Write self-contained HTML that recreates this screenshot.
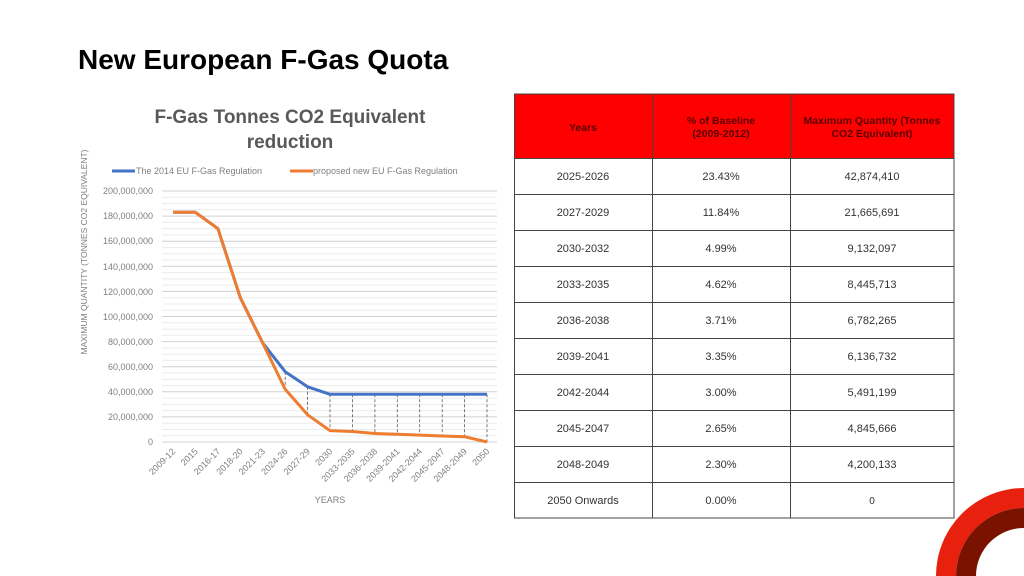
<!DOCTYPE html>
<html><head><meta charset="utf-8"><style>
html,body{margin:0;padding:0;width:1024px;height:576px;overflow:hidden;background:#fff;font-family:"Liberation Sans",sans-serif}
svg{display:block;overflow:hidden}
</style></head><body>
<svg width="1024" height="576" viewBox="0 0 1024 576" xmlns="http://www.w3.org/2000/svg" font-family="Liberation Sans, sans-serif">
<text x="78" y="69" font-size="28" font-weight="bold" fill="#000">New European F-Gas Quota</text>
<text x="290" y="123" font-size="19" font-weight="bold" fill="#595959" text-anchor="middle">F-Gas Tonnes CO2 Equivalent</text>
<text x="290" y="148" font-size="19" font-weight="bold" fill="#595959" text-anchor="middle">reduction</text>
<g stroke="#ececec" stroke-width="1">
<line x1="162" x2="497" y1="435.7" y2="435.7"/><line x1="162" x2="497" y1="429.5" y2="429.5"/><line x1="162" x2="497" y1="423.2" y2="423.2"/>
<line x1="162" x2="497" y1="410.6" y2="410.6"/><line x1="162" x2="497" y1="404.4" y2="404.4"/><line x1="162" x2="497" y1="398.1" y2="398.1"/>
<line x1="162" x2="497" y1="385.5" y2="385.5"/><line x1="162" x2="497" y1="379.3" y2="379.3"/><line x1="162" x2="497" y1="373" y2="373"/>
<line x1="162" x2="497" y1="360.4" y2="360.4"/><line x1="162" x2="497" y1="354.2" y2="354.2"/><line x1="162" x2="497" y1="347.9" y2="347.9"/>
<line x1="162" x2="497" y1="335.3" y2="335.3"/><line x1="162" x2="497" y1="329.1" y2="329.1"/><line x1="162" x2="497" y1="322.8" y2="322.8"/>
<line x1="162" x2="497" y1="310.2" y2="310.2"/><line x1="162" x2="497" y1="304" y2="304"/><line x1="162" x2="497" y1="297.7" y2="297.7"/>
<line x1="162" x2="497" y1="285.1" y2="285.1"/><line x1="162" x2="497" y1="278.9" y2="278.9"/><line x1="162" x2="497" y1="272.6" y2="272.6"/>
<line x1="162" x2="497" y1="260" y2="260"/><line x1="162" x2="497" y1="253.8" y2="253.8"/><line x1="162" x2="497" y1="247.5" y2="247.5"/>
<line x1="162" x2="497" y1="234.9" y2="234.9"/><line x1="162" x2="497" y1="228.7" y2="228.7"/><line x1="162" x2="497" y1="222.4" y2="222.4"/>
<line x1="162" x2="497" y1="209.8" y2="209.8"/><line x1="162" x2="497" y1="203.6" y2="203.6"/><line x1="162" x2="497" y1="197.3" y2="197.3"/>
</g>
<g stroke="#d0d0d0" stroke-width="1">
<line x1="162" x2="497" y1="442" y2="442"/><line x1="162" x2="497" y1="416.9" y2="416.9"/><line x1="162" x2="497" y1="391.8" y2="391.8"/>
<line x1="162" x2="497" y1="366.7" y2="366.7"/><line x1="162" x2="497" y1="341.6" y2="341.6"/><line x1="162" x2="497" y1="316.5" y2="316.5"/>
<line x1="162" x2="497" y1="291.4" y2="291.4"/><line x1="162" x2="497" y1="266.3" y2="266.3"/><line x1="162" x2="497" y1="241.2" y2="241.2"/>
<line x1="162" x2="497" y1="216.1" y2="216.1"/><line x1="162" x2="497" y1="191" y2="191"/>
</g>
<g font-size="9" fill="#7f7f7f" text-anchor="end">
<text x="153" y="445">0</text><text x="153" y="420">20,000,000</text><text x="153" y="395">40,000,000</text>
<text x="153" y="370">60,000,000</text><text x="153" y="345">80,000,000</text><text x="153" y="320">100,000,000</text>
<text x="153" y="295">120,000,000</text><text x="153" y="270">140,000,000</text><text x="153" y="244">160,000,000</text>
<text x="153" y="219">180,000,000</text><text x="153" y="194">200,000,000</text>
</g>
<text transform="translate(87,252) rotate(-90)" font-size="8.5" fill="#7f7f7f" text-anchor="middle">MAXIMUM QUANTITY (TONNES CO2 EQUIVALENT)</text>
<g stroke="#555" stroke-width="0.8" stroke-dasharray="3,2">
<line x1="285.2" y1="371.7" x2="285.2" y2="389.3"/><line x1="307.6" y1="386.8" x2="307.6" y2="414.8"/>
<line x1="330" y1="394.3" x2="330" y2="430.6"/><line x1="352.4" y1="394.3" x2="352.4" y2="431.5"/>
<line x1="374.9" y1="394.3" x2="374.9" y2="433.5"/><line x1="397.3" y1="394.3" x2="397.3" y2="434.3"/>
<line x1="419.7" y1="394.3" x2="419.7" y2="435.1"/><line x1="442.2" y1="394.3" x2="442.2" y2="436"/>
<line x1="464.6" y1="394.3" x2="464.6" y2="436.7"/><line x1="487" y1="394.3" x2="487" y2="442"/>
</g>
<polyline fill="none" stroke="#4472c4" stroke-width="3" stroke-linejoin="round" points="173,212.3 195.4,212.3 217.9,228.6 240.3,297.7 262.7,342.9 285.2,371.7 307.6,386.8 330,394.3 352.4,394.3 374.9,394.3 397.3,394.3 419.7,394.3 442.2,394.3 464.6,394.3 487,394.3"/>
<polyline fill="none" stroke="#ed7d31" stroke-width="3" stroke-linejoin="round" points="173,212.3 195.4,212.3 217.9,228.6 240.3,297.7 262.7,342.9 285.2,389.3 307.6,414.8 330,430.6 352.4,431.5 374.9,433.5 397.3,434.3 419.7,435.1 442.2,436 464.6,436.7 487,442"/>
<g font-size="9" fill="#7f7f7f" text-anchor="end">
<text transform="translate(176,452) rotate(-45)">2009-12</text>
<text transform="translate(198.4,452) rotate(-45)">2015</text>
<text transform="translate(220.9,452) rotate(-45)">2016-17</text>
<text transform="translate(243.3,452) rotate(-45)">2018-20</text>
<text transform="translate(265.7,452) rotate(-45)">2021-23</text>
<text transform="translate(288.2,452) rotate(-45)">2024-26</text>
<text transform="translate(310.6,452) rotate(-45)">2027-29</text>
<text transform="translate(333,452) rotate(-45)">2030</text>
<text transform="translate(355.4,452) rotate(-45)">2033-2035</text>
<text transform="translate(377.9,452) rotate(-45)">2036-2038</text>
<text transform="translate(400.3,452) rotate(-45)">2039-2041</text>
<text transform="translate(422.7,452) rotate(-45)">2042-2044</text>
<text transform="translate(445.2,452) rotate(-45)">2045-2047</text>
<text transform="translate(467.6,452) rotate(-45)">2048-2049</text>
<text transform="translate(490,452) rotate(-45)">2050</text>
</g>
<text x="330" y="503" font-size="9" fill="#7f7f7f" text-anchor="middle">YEARS</text>
<line x1="112" y1="171" x2="135" y2="171" stroke="#4472c4" stroke-width="3"/>
<text x="136" y="174" font-size="9" fill="#7f7f7f">The 2014 EU F-Gas Regulation</text>
<line x1="290" y1="171" x2="313" y2="171" stroke="#ed7d31" stroke-width="3"/>
<text x="313" y="174" font-size="9" fill="#7f7f7f">proposed new EU F-Gas Regulation</text>

<rect x="514.5" y="94" width="439.5" height="64" fill="#ff0000"/>
<g stroke="#444" stroke-width="1" fill="none">
<rect x="514.5" y="94" width="439.5" height="424"/>
<line x1="652.5" y1="94" x2="652.5" y2="518"/><line x1="790.5" y1="94" x2="790.5" y2="518"/>
<line x1="514.5" y1="158.5" x2="954" y2="158.5"/><line x1="514.5" y1="194.5" x2="954" y2="194.5"/>
<line x1="514.5" y1="230.5" x2="954" y2="230.5"/><line x1="514.5" y1="266.5" x2="954" y2="266.5"/>
<line x1="514.5" y1="302.5" x2="954" y2="302.5"/><line x1="514.5" y1="338.5" x2="954" y2="338.5"/>
<line x1="514.5" y1="374.5" x2="954" y2="374.5"/><line x1="514.5" y1="410.5" x2="954" y2="410.5"/>
<line x1="514.5" y1="446.5" x2="954" y2="446.5"/><line x1="514.5" y1="482.5" x2="954" y2="482.5"/>
</g>
<g font-size="10.5" font-weight="900" fill="#5a0000" text-anchor="middle">
<text x="583" y="131">Years</text>
<text x="721" y="124">% of  Baseline</text><text x="721" y="137">(2009-2012)</text>
<text x="872" y="124">Maximum Quantity (Tonnes</text><text x="872" y="137">CO2 Equivalent)</text>
</g>
<g font-size="11" fill="#333" text-anchor="middle">
<text x="583" y="180">2025-2026</text><text x="721" y="180">23.43%</text><text x="872" y="180">42,874,410</text>
<text x="583" y="216">2027-2029</text><text x="721" y="216">11.84%</text><text x="872" y="216">21,665,691</text>
<text x="583" y="252">2030-2032</text><text x="721" y="252">4.99%</text><text x="872" y="252">9,132,097</text>
<text x="583" y="288">2033-2035</text><text x="721" y="288">4.62%</text><text x="872" y="288">8,445,713</text>
<text x="583" y="324">2036-2038</text><text x="721" y="324">3.71%</text><text x="872" y="324">6,782,265</text>
<text x="583" y="360">2039-2041</text><text x="721" y="360">3.35%</text><text x="872" y="360">6,136,732</text>
<text x="583" y="396">2042-2044</text><text x="721" y="396">3.00%</text><text x="872" y="396">5,491,199</text>
<text x="583" y="432">2045-2047</text><text x="721" y="432">2.65%</text><text x="872" y="432">4,845,666</text>
<text x="583" y="468">2048-2049</text><text x="721" y="468">2.30%</text><text x="872" y="468">4,200,133</text>
<text x="583" y="504">2050 Onwards</text><text x="721" y="504">0.00%</text><text x="872" y="504" font-size="10">0</text>
</g>
<path d="M936 576 A88 88 0 0 1 1024 488 L1024 508 A68 68 0 0 0 956 576 Z" fill="#e8200e"/>
<path d="M956 576 A68 68 0 0 1 1024 508 L1024 528 A48 48 0 0 0 976 576 Z" fill="#7a1200"/>
</svg>
</body></html>
